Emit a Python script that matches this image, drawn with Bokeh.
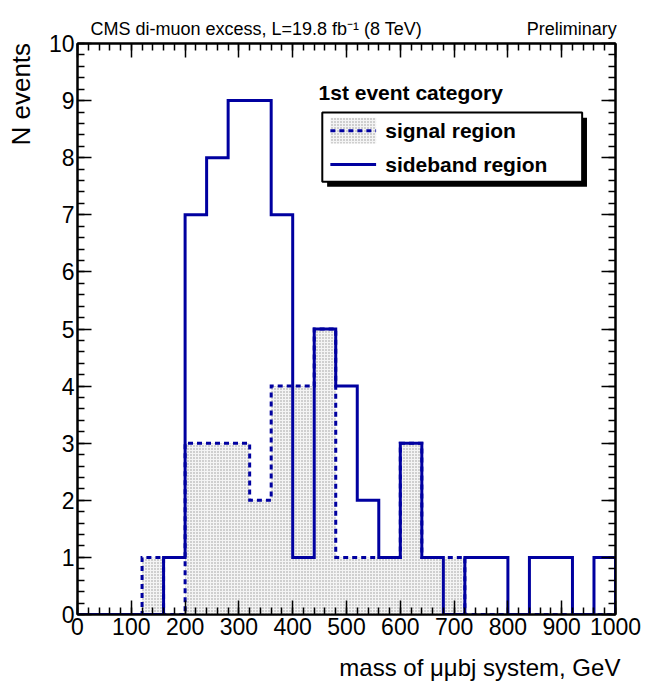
from bokeh.plotting import figure
from bokeh.models import Range1d, SingleIntervalTicker, LinearAxis, Label, ColumnDataSource, Title
from bokeh.embed import file_html
from bokeh.resources import INLINE

# ---- data ----
bin_edges = [0, 40, 80, 120, 160, 200, 240, 280, 320, 360, 400, 440, 480, 520,
             560, 600, 640, 680, 720, 760, 800, 840, 880, 920, 960, 1000]
signal_counts = [0, 0, 0, 1, 0, 3, 3, 3, 2, 4, 4, 5, 1, 1, 1, 3, 1, 1, 0, 0, 0, 0, 0, 0, 0]
sideband_counts = [0, 0, 0, 0, 1, 7, 8, 9, 9, 7, 1, 5, 4, 2, 1, 3, 1, 0, 1, 1, 0, 1, 1, 0, 1]
title_text = "CMS di-muon excess, L=19.8 fb\u207b\u00b9 (8 TeV)"
prelim_text = "Preliminary"
x_label = "mass of \u03bc\u03bcbj system, GeV"
y_label = "N events"
legend_header = "1st event category"
legend_labels = ["signal region", "sideband region"]

BLUE = "#0000a0"
FONT = "Liberation Sans"
NBSP = "\u00a0"


def step_xy(edges, counts):
    xs, ys = [edges[0]], [0]
    for i, c in enumerate(counts):
        xs += [edges[i], edges[i + 1]]
        ys += [c, c]
    xs.append(edges[-1])
    ys.append(0)
    return xs, ys


p = figure(width=645, height=687, x_range=Range1d(0, 1000), y_range=Range1d(0, 10),
           x_axis_type=None, y_axis_type=None, output_backend="svg", toolbar_location=None,
           min_border_left=77, min_border_right=30, min_border_top=43, min_border_bottom=73)
p.outline_line_color = "black"
p.outline_line_width = 2
p.background_fill_color = "white"
p.border_fill_color = "white"

p.title = Title(text=title_text + NBSP * 21 + prelim_text, align="left", offset=13,
                text_font=FONT, text_font_size="18px", text_font_style="normal",
                text_color="black", standoff=9)


def style_axis(ax, interval, show):
    ax.ticker = SingleIntervalTicker(interval=interval, num_minor_ticks=5)
    ax.major_tick_in = 14
    ax.major_tick_out = 0
    ax.minor_tick_in = 7
    ax.minor_tick_out = 0
    ax.axis_line_color = "black"
    ax.axis_line_width = 2
    ax.major_tick_line_width = 1.5
    ax.minor_tick_line_width = 1.5
    ax.major_tick_line_color = "black"
    ax.minor_tick_line_color = "black"
    if show:
        ax.major_label_text_font = FONT
        ax.major_label_text_font_size = "23px"
        ax.major_label_text_color = "black"
        ax.axis_label_text_font = FONT
        ax.axis_label_text_font_style = "normal"
        ax.axis_label_text_color = "black"
    else:
        ax.major_label_text_font_size = "0px"
        ax.major_label_text_alpha = 0
        ax.major_label_standoff = 0


xb = LinearAxis(); style_axis(xb, 100, True); xb.major_label_standoff = 3
xb.axis_label = NBSP * 40 + x_label
xb.axis_label_text_font_size = "24px"
xb.axis_label_standoff = 16
xa = LinearAxis(); style_axis(xa, 100, False)
yl = LinearAxis(); style_axis(yl, 1, True); yl.major_label_standoff = 3
yl.axis_label = NBSP * 65 + y_label
yl.axis_label_text_font_size = "26px"
yl.axis_label_standoff = 10
yr = LinearAxis(); style_axis(yr, 1, False)
p.add_layout(xb, "below")
p.add_layout(xa, "above")
p.add_layout(yl, "left")
p.add_layout(yr, "right")

# signal region: dotted fill + dashed outline
sig_src = ColumnDataSource(dict(left=bin_edges[:-1], right=bin_edges[1:],
                                top=signal_counts, bottom=[0] * len(signal_counts)))
p.quad(left="left", right="right", top="top", bottom="bottom", source=sig_src,
       fill_color="#f4f4f4", line_color=None, hatch_pattern="dot", hatch_color="#999999",
       hatch_scale=3, hatch_weight=1)
sx, sy = step_xy(bin_edges, signal_counts)
p.line(sx, sy, line_color=BLUE, line_width=3, line_dash="5 4", line_join="miter")

# sideband region: solid outline
bx, by = step_xy(bin_edges, sideband_counts)
p.line(bx, by, line_color=BLUE, line_width=3, line_join="miter")

# legend (manual, ROOT style)
p.quad(left=[464], right=[947], top=[8.70], bottom=[7.49], fill_color="black", line_color=None)
p.quad(left=[455], right=[938], top=[8.79], bottom=[7.58], fill_color="white",
       line_color="black", line_width=2)
p.quad(left=[470], right=[555], top=[8.70], bottom=[8.25], fill_color="#f4f4f4",
       line_color=None, hatch_pattern="dot", hatch_color="#999999", hatch_scale=3, hatch_weight=1)
p.line([470, 555], [8.47, 8.47], line_color=BLUE, line_width=3, line_dash="5 4")
p.line([470, 555], [7.88, 7.88], line_color=BLUE, line_width=3)

p.add_layout(Label(x=448, y=9.14, text=legend_header, text_font=FONT, text_font_size="21px",
                   text_font_style="bold", text_baseline="middle", text_color="black"))
p.add_layout(Label(x=572, y=8.47, text=legend_labels[0], text_font=FONT, text_font_size="21px",
                   text_font_style="bold", text_baseline="middle", text_color="black"))
p.add_layout(Label(x=572, y=7.88, text=legend_labels[1], text_font=FONT, text_font_size="21px",
                   text_font_style="bold", text_baseline="middle", text_color="black"))

open("out.html", "w").write(file_html(p, INLINE))
